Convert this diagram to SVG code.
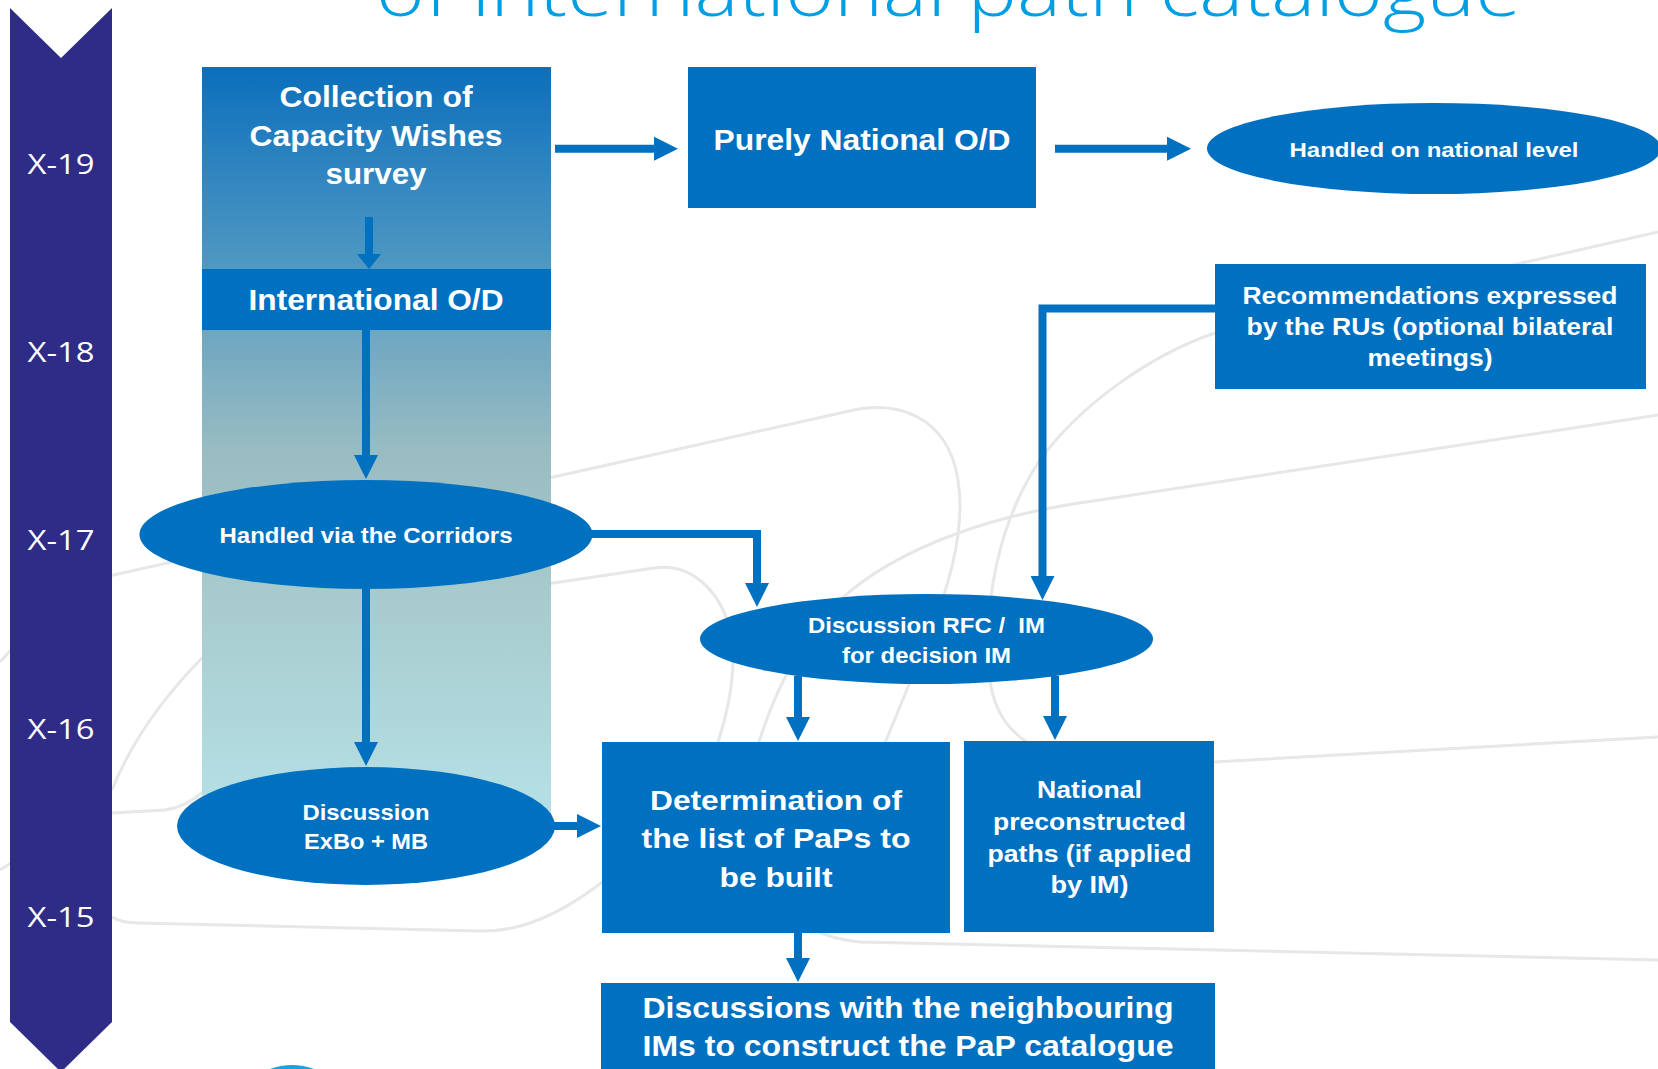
<svg xmlns="http://www.w3.org/2000/svg" width="1658" height="1069" viewBox="0 0 1658 1069">
<style>
.nd{fill:#0070c0}
.t{font-family:"Liberation Sans",Arial,sans-serif;font-weight:bold;fill:#ffffff;text-anchor:middle}
.x{font-family:"Open Sans","DejaVu Sans",sans-serif;fill:#ffffff;text-anchor:middle;font-size:27px}
.bg{fill:none;stroke:#e7e7e7;stroke-width:3}
.c{fill:none;stroke:#0070c0;stroke-width:8;stroke-linejoin:miter}
</style>
<defs>
<linearGradient id="colg" x1="0" y1="67" x2="0" y2="815" gradientUnits="userSpaceOnUse">
<stop offset="0" stop-color="#0b6fbc"/>
<stop offset="0.178" stop-color="#3a8bc1"/>
<stop offset="0.258" stop-color="#4c97c2"/>
<stop offset="0.352" stop-color="#6ea6c1"/>
<stop offset="0.512" stop-color="#98bcc2"/>
<stop offset="0.713" stop-color="#a8cbcd"/>
<stop offset="0.967" stop-color="#b3dee3"/>
<stop offset="1" stop-color="#b4e0e5"/>
</linearGradient>
<marker id="ah" markerUnits="userSpaceOnUse" markerWidth="24" markerHeight="24" viewBox="0 0 24 24" refX="14" refY="12" orient="auto"><path d="M0,0 L24,12 L0,24 Z" fill="#0070c0"/></marker>
<marker id="ahs" markerUnits="userSpaceOnUse" markerWidth="15" markerHeight="24" viewBox="0 0 15 24" refX="8" refY="12" orient="auto"><path d="M0,0 L15,12 L0,24 Z" fill="#0070c0"/></marker>
</defs>
<rect x="0" y="0" width="1658" height="1069" fill="#ffffff"/>
<g id="background">
<path class="bg" d="M100 578 L845 412 C900 398 948 418 958 480 C966 530 950 590 915 670 L878 760"/>
<path class="bg" d="M540 585 L654 568 C690 562 720 590 730 630 C738 665 730 710 712 760"/>
<path class="bg" d="M1658 415 L1100 500 C1000 513 900 545 840 600 C800 640 775 690 758 745"/>
<path class="bg" d="M1658 232 L1215 333 C1150 355 1080 405 1040 460 C1000 520 982 600 990 680 C995 720 1020 752 1080 760 L1214 762 L1658 737"/>
<path class="bg" d="M112 790 C130 745 160 700 205 655"/>
<path class="bg" d="M0 662 L20 640"/>
<path class="bg" d="M0 870 L20 857"/>
<path class="bg" d="M112 813 L165 810 C180 808 192 802 205 790"/>
<path class="bg" d="M112 917 C118 921 125 923 140 923 L480 931 C520 932 560 915 605 880"/>
<path class="bg" d="M780 900 C800 925 820 938 860 942 L1658 960"/>
<path d="M270 1069 Q292 1061 314 1069 Z" fill="#1aa3e0"/>
</g>
<text x="376" y="16" font-family="'Open Sans','DejaVu Sans',sans-serif" font-weight="300" font-size="72" fill="#009fe3" textLength="1145" lengthAdjust="spacingAndGlyphs">of international path catalogue</text>
<g id="timeline">
<polygon points="10,8 61,58 112,8 112,1022 61,1072 10,1022" fill="#2e2c86"/>
<text class="x" x="61" y="174" textLength="67" lengthAdjust="spacingAndGlyphs">X-19</text>
<text class="x" x="61" y="362" textLength="67" lengthAdjust="spacingAndGlyphs">X-18</text>
<text class="x" x="61" y="550" textLength="67" lengthAdjust="spacingAndGlyphs">X-17</text>
<text class="x" x="61" y="739" textLength="67" lengthAdjust="spacingAndGlyphs">X-16</text>
<text class="x" x="61" y="927" textLength="67" lengthAdjust="spacingAndGlyphs">X-15</text>
</g>
<g id="collection">
<rect x="202" y="67" width="349" height="748" fill="url(#colg)"/>
<text class="t" font-size="29"><tspan x="376" y="107" textLength="193" lengthAdjust="spacingAndGlyphs">Collection of</tspan><tspan x="376" y="146" textLength="253" lengthAdjust="spacingAndGlyphs">Capacity Wishes</tspan><tspan x="376" y="184" textLength="101" lengthAdjust="spacingAndGlyphs">survey</tspan></text>
</g>
<g id="international">
<rect class="nd" x="202" y="269" width="349" height="61"/>
<text class="t" font-size="29" x="376" y="310" textLength="255" lengthAdjust="spacingAndGlyphs">International O/D</text>
</g>
<g id="purely-national">
<rect class="nd" x="688" y="67" width="348" height="141"/>
<text class="t" font-size="30" x="862" y="150" textLength="297" lengthAdjust="spacingAndGlyphs">Purely National O/D</text>
</g>
<g id="handled-national">
<ellipse class="nd" cx="1434" cy="148.5" rx="227" ry="45.5"/>
<text class="t" font-size="21" x="1434" y="157" textLength="289" lengthAdjust="spacingAndGlyphs">Handled on national level</text>
</g>
<g id="recommendations">
<rect class="nd" x="1215" y="264" width="431" height="125"/>
<text class="t" font-size="23"><tspan x="1430" y="304" textLength="375" lengthAdjust="spacingAndGlyphs">Recommendations expressed</tspan><tspan x="1430" y="335" textLength="367" lengthAdjust="spacingAndGlyphs">by the RUs (optional bilateral</tspan><tspan x="1430" y="366" textLength="125" lengthAdjust="spacingAndGlyphs">meetings)</tspan></text>
</g>
<g id="corridors">
<ellipse class="nd" cx="366" cy="534.5" rx="226.5" ry="54.5"/>
<text class="t" font-size="22" x="366" y="543" textLength="293" lengthAdjust="spacingAndGlyphs">Handled via the Corridors</text>
</g>
<g id="discussion-rfc">
<ellipse class="nd" cx="926.5" cy="639" rx="226.5" ry="45"/>
<text class="t" font-size="22"><tspan x="926.5" y="633" textLength="237" lengthAdjust="spacingAndGlyphs">Discussion RFC /&#160; IM</tspan><tspan x="926.5" y="663" textLength="169" lengthAdjust="spacingAndGlyphs">for decision IM</tspan></text>
</g>
<g id="discussion-exbo">
<ellipse class="nd" cx="366" cy="826" rx="189" ry="59"/>
<text class="t" font-size="22"><tspan x="366" y="820" textLength="127" lengthAdjust="spacingAndGlyphs">Discussion</tspan><tspan x="366" y="849" textLength="124" lengthAdjust="spacingAndGlyphs">ExBo + MB</tspan></text>
</g>
<g id="determination">
<rect class="nd" x="602" y="742" width="348" height="191"/>
<text class="t" font-size="28"><tspan x="776" y="810" textLength="252" lengthAdjust="spacingAndGlyphs">Determination of</tspan><tspan x="776" y="848" textLength="269" lengthAdjust="spacingAndGlyphs">the list of PaPs to</tspan><tspan x="776" y="887" textLength="113" lengthAdjust="spacingAndGlyphs">be built</tspan></text>
</g>
<g id="national-preconstructed">
<rect class="nd" x="964" y="741" width="250" height="191"/>
<text class="t" font-size="23"><tspan x="1089.5" y="798" textLength="105" lengthAdjust="spacingAndGlyphs">National</tspan><tspan x="1089.5" y="830" textLength="193" lengthAdjust="spacingAndGlyphs">preconstructed</tspan><tspan x="1089.5" y="862" textLength="204" lengthAdjust="spacingAndGlyphs">paths (if applied</tspan><tspan x="1089.5" y="893" textLength="78" lengthAdjust="spacingAndGlyphs">by IM)</tspan></text>
</g>
<g id="discussions-neighbouring">
<rect class="nd" x="601" y="983" width="614" height="100"/>
<text class="t" font-size="30"><tspan x="908" y="1018" textLength="531" lengthAdjust="spacingAndGlyphs">Discussions with the neighbouring</tspan><tspan x="908" y="1056" textLength="531" lengthAdjust="spacingAndGlyphs">IMs to construct the PaP catalogue</tspan></text>
</g>
<g id="connectors">
<path class="c" d="M555 148.7 H668" marker-end="url(#ah)"/>
<path class="c" d="M1055 148.7 H1181" marker-end="url(#ah)"/>
<path class="c" d="M369 217 V262" marker-end="url(#ahs)"/>
<path class="c" d="M366 330 V469" marker-end="url(#ah)"/>
<path class="c" d="M590 534 H757 V597" marker-end="url(#ah)"/>
<path class="c" d="M1215 308.5 H1042.5 V590" marker-end="url(#ah)"/>
<path class="c" d="M798 676 V731" marker-end="url(#ah)"/>
<path class="c" d="M1055 676 V730" marker-end="url(#ah)"/>
<path class="c" d="M366 589 V756" marker-end="url(#ah)"/>
<path class="c" d="M553 826 H591" marker-end="url(#ah)"/>
<path class="c" d="M798 933 V972" marker-end="url(#ah)"/>
</g>
</svg>
